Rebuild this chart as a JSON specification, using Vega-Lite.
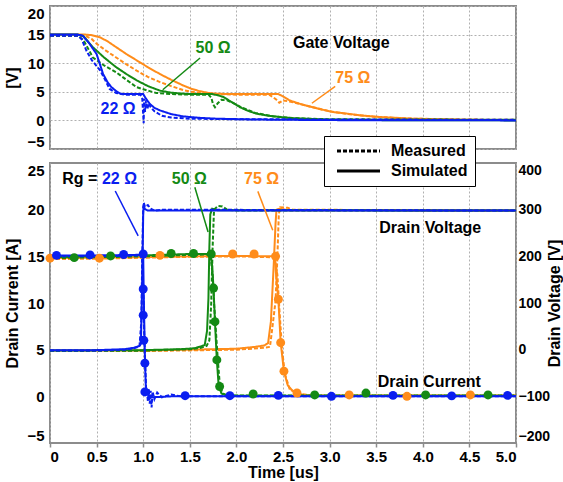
{
  "$schema": "https://vega.github.io/schema/vega-lite/v6.json",
  "padding": {"left": 3, "right": 0, "top": 5, "bottom": 2},
  "bounds": "flush",
  "spacing": 14,
  "datasets": {
    "gate": [
      {"rg":"75","k":"Simulated","t":0,"v":15},{"rg":"75","k":"Simulated","t":0.38,"v":15},{"rg":"75","k":"Simulated","t":0.45,"v":14.9},{"rg":"75","k":"Simulated","t":0.54,"v":14.5},{"rg":"75","k":"Simulated","t":0.62,"v":13.8},{"rg":"75","k":"Simulated","t":0.71,"v":12.8},{"rg":"75","k":"Simulated","t":0.82,"v":11.6},{"rg":"75","k":"Simulated","t":0.93,"v":10.5},{"rg":"75","k":"Simulated","t":1.05,"v":9.3},{"rg":"75","k":"Simulated","t":1.18,"v":8.1},{"rg":"75","k":"Simulated","t":1.3,"v":7.1},{"rg":"75","k":"Simulated","t":1.43,"v":6.1},{"rg":"75","k":"Simulated","t":1.52,"v":5.5},{"rg":"75","k":"Simulated","t":1.61,"v":5.1},{"rg":"75","k":"Simulated","t":1.7,"v":4.8},{"rg":"75","k":"Simulated","t":1.8,"v":4.65},{"rg":"75","k":"Simulated","t":2.0,"v":4.6},{"rg":"75","k":"Simulated","t":2.45,"v":4.6},{"rg":"75","k":"Simulated","t":2.5,"v":4.2},{"rg":"75","k":"Simulated","t":2.57,"v":3.5},{"rg":"75","k":"Simulated","t":2.7,"v":2.8},{"rg":"75","k":"Simulated","t":2.82,"v":2.3},{"rg":"75","k":"Simulated","t":2.93,"v":1.85},{"rg":"75","k":"Simulated","t":3.04,"v":1.45},{"rg":"75","k":"Simulated","t":3.18,"v":1.2},{"rg":"75","k":"Simulated","t":3.35,"v":0.85},{"rg":"75","k":"Simulated","t":3.54,"v":0.6},{"rg":"75","k":"Simulated","t":3.7,"v":0.45},{"rg":"75","k":"Simulated","t":3.89,"v":0.3},{"rg":"75","k":"Simulated","t":4.2,"v":0.2},{"rg":"75","k":"Simulated","t":4.5,"v":0.1},{"rg":"75","k":"Simulated","t":5,"v":0.05},
      {"rg":"75","k":"Measured","t":0,"v":14.8},{"rg":"75","k":"Measured","t":0.38,"v":14.8},{"rg":"75","k":"Measured","t":0.45,"v":14.2},{"rg":"75","k":"Measured","t":0.5,"v":13.4},{"rg":"75","k":"Measured","t":0.6,"v":12.2},{"rg":"75","k":"Measured","t":0.71,"v":11.0},{"rg":"75","k":"Measured","t":0.82,"v":9.8},{"rg":"75","k":"Measured","t":0.93,"v":8.7},{"rg":"75","k":"Measured","t":1.05,"v":7.6},{"rg":"75","k":"Measured","t":1.18,"v":6.7},{"rg":"75","k":"Measured","t":1.3,"v":6.0},{"rg":"75","k":"Measured","t":1.43,"v":5.3},{"rg":"75","k":"Measured","t":1.52,"v":5.0},{"rg":"75","k":"Measured","t":1.61,"v":4.8},{"rg":"75","k":"Measured","t":1.8,"v":4.6},{"rg":"75","k":"Measured","t":2.0,"v":4.5},{"rg":"75","k":"Measured","t":2.35,"v":4.5},{"rg":"75","k":"Measured","t":2.4,"v":4.0},{"rg":"75","k":"Measured","t":2.43,"v":3.6},{"rg":"75","k":"Measured","t":2.46,"v":3.1},{"rg":"75","k":"Measured","t":2.5,"v":3.5},{"rg":"75","k":"Measured","t":2.57,"v":3.3},{"rg":"75","k":"Measured","t":2.7,"v":2.8},{"rg":"75","k":"Measured","t":2.82,"v":2.3},{"rg":"75","k":"Measured","t":3.0,"v":1.6},{"rg":"75","k":"Measured","t":3.2,"v":1.1},{"rg":"75","k":"Measured","t":3.5,"v":0.6},{"rg":"75","k":"Measured","t":3.9,"v":0.3},{"rg":"75","k":"Measured","t":4.5,"v":0.15},{"rg":"75","k":"Measured","t":5,"v":0.1},
      {"rg":"50","k":"Simulated","t":0,"v":15},{"rg":"50","k":"Simulated","t":0.3,"v":15},{"rg":"50","k":"Simulated","t":0.36,"v":14.7},{"rg":"50","k":"Simulated","t":0.46,"v":12.8},{"rg":"50","k":"Simulated","t":0.58,"v":11.0},{"rg":"50","k":"Simulated","t":0.71,"v":9.3},{"rg":"50","k":"Simulated","t":0.82,"v":8.1},{"rg":"50","k":"Simulated","t":0.93,"v":7.0},{"rg":"50","k":"Simulated","t":1.05,"v":6.0},{"rg":"50","k":"Simulated","t":1.18,"v":5.2},{"rg":"50","k":"Simulated","t":1.3,"v":4.85},{"rg":"50","k":"Simulated","t":1.4,"v":4.7},{"rg":"50","k":"Simulated","t":1.5,"v":4.6},{"rg":"50","k":"Simulated","t":1.74,"v":4.6},{"rg":"50","k":"Simulated","t":1.8,"v":4.4},{"rg":"50","k":"Simulated","t":1.86,"v":4.1},{"rg":"50","k":"Simulated","t":1.95,"v":3.2},{"rg":"50","k":"Simulated","t":2.04,"v":2.3},{"rg":"50","k":"Simulated","t":2.12,"v":1.7},{"rg":"50","k":"Simulated","t":2.21,"v":1.2},{"rg":"50","k":"Simulated","t":2.33,"v":0.85},{"rg":"50","k":"Simulated","t":2.46,"v":0.6},{"rg":"50","k":"Simulated","t":2.6,"v":0.4},{"rg":"50","k":"Simulated","t":2.8,"v":0.25},{"rg":"50","k":"Simulated","t":3.0,"v":0.12},{"rg":"50","k":"Simulated","t":3.5,"v":0.05},{"rg":"50","k":"Simulated","t":5,"v":0},
      {"rg":"50","k":"Measured","t":0,"v":14.8},{"rg":"50","k":"Measured","t":0.3,"v":14.8},{"rg":"50","k":"Measured","t":0.36,"v":14.0},{"rg":"50","k":"Measured","t":0.46,"v":11.0},{"rg":"50","k":"Measured","t":0.58,"v":9.6},{"rg":"50","k":"Measured","t":0.71,"v":8.4},{"rg":"50","k":"Measured","t":0.82,"v":7.1},{"rg":"50","k":"Measured","t":0.93,"v":5.8},{"rg":"50","k":"Measured","t":1.05,"v":5.2},{"rg":"50","k":"Measured","t":1.14,"v":4.8},{"rg":"50","k":"Measured","t":1.3,"v":4.6},{"rg":"50","k":"Measured","t":1.5,"v":4.5},{"rg":"50","k":"Measured","t":1.7,"v":4.5},{"rg":"50","k":"Measured","t":1.73,"v":4.0},{"rg":"50","k":"Measured","t":1.75,"v":2.8},{"rg":"50","k":"Measured","t":1.77,"v":2.3},{"rg":"50","k":"Measured","t":1.8,"v":3.0},{"rg":"50","k":"Measured","t":1.84,"v":3.6},{"rg":"50","k":"Measured","t":1.9,"v":3.5},{"rg":"50","k":"Measured","t":1.96,"v":3.1},{"rg":"50","k":"Measured","t":2.04,"v":2.4},{"rg":"50","k":"Measured","t":2.2,"v":1.3},{"rg":"50","k":"Measured","t":2.4,"v":0.7},{"rg":"50","k":"Measured","t":2.6,"v":0.4},{"rg":"50","k":"Measured","t":2.8,"v":0.3},{"rg":"50","k":"Measured","t":3.0,"v":0.2},{"rg":"50","k":"Measured","t":5,"v":0.1},
      {"rg":"22","k":"Simulated","t":0,"v":15},{"rg":"22","k":"Simulated","t":0.3,"v":15},{"rg":"22","k":"Simulated","t":0.35,"v":14.8},{"rg":"22","k":"Simulated","t":0.42,"v":13.5},{"rg":"22","k":"Simulated","t":0.5,"v":11.6},{"rg":"22","k":"Simulated","t":0.57,"v":8.1},{"rg":"22","k":"Simulated","t":0.62,"v":6.6},{"rg":"22","k":"Simulated","t":0.66,"v":5.8},{"rg":"22","k":"Simulated","t":0.72,"v":5.0},{"rg":"22","k":"Simulated","t":0.75,"v":4.7},{"rg":"22","k":"Simulated","t":0.8,"v":4.6},{"rg":"22","k":"Simulated","t":1.0,"v":4.6},{"rg":"22","k":"Simulated","t":1.03,"v":3.8},{"rg":"22","k":"Simulated","t":1.07,"v":2.9},{"rg":"22","k":"Simulated","t":1.12,"v":2.2},{"rg":"22","k":"Simulated","t":1.18,"v":1.75},{"rg":"22","k":"Simulated","t":1.3,"v":1.1},{"rg":"22","k":"Simulated","t":1.43,"v":0.7},{"rg":"22","k":"Simulated","t":1.6,"v":0.45},{"rg":"22","k":"Simulated","t":1.79,"v":0.3},{"rg":"22","k":"Simulated","t":2.2,"v":0.15},{"rg":"22","k":"Simulated","t":3.0,"v":0.05},{"rg":"22","k":"Simulated","t":5,"v":0},
      {"rg":"22","k":"Measured","t":0,"v":14.8},{"rg":"22","k":"Measured","t":0.3,"v":14.8},{"rg":"22","k":"Measured","t":0.34,"v":14.2},{"rg":"22","k":"Measured","t":0.39,"v":12.2},{"rg":"22","k":"Measured","t":0.45,"v":10.5},{"rg":"22","k":"Measured","t":0.54,"v":8.7},{"rg":"22","k":"Measured","t":0.6,"v":6.8},{"rg":"22","k":"Measured","t":0.64,"v":5.5},{"rg":"22","k":"Measured","t":0.71,"v":4.8},{"rg":"22","k":"Measured","t":0.8,"v":4.5},{"rg":"22","k":"Measured","t":0.97,"v":4.5},{"rg":"22","k":"Measured","t":0.99,"v":3.8},{"rg":"22","k":"Measured","t":1.0,"v":1.0},{"rg":"22","k":"Measured","t":1.005,"v":-0.5},{"rg":"22","k":"Measured","t":1.01,"v":3.8},{"rg":"22","k":"Measured","t":1.02,"v":1.5},{"rg":"22","k":"Measured","t":1.03,"v":3.5},{"rg":"22","k":"Measured","t":1.045,"v":2.0},{"rg":"22","k":"Measured","t":1.06,"v":3.0},{"rg":"22","k":"Measured","t":1.08,"v":2.3},{"rg":"22","k":"Measured","t":1.12,"v":1.6},{"rg":"22","k":"Measured","t":1.2,"v":0.8},{"rg":"22","k":"Measured","t":1.3,"v":0.5},{"rg":"22","k":"Measured","t":1.5,"v":0.3},{"rg":"22","k":"Measured","t":2.0,"v":0.2},{"rg":"22","k":"Measured","t":5,"v":0.1}
    ],
    "cur": [
      {"rg":"75","k":"Simulated","t":0,"i":14.8},{"rg":"75","k":"Simulated","t":0.5,"i":14.85},{"rg":"75","k":"Simulated","t":1.0,"i":14.9},{"rg":"75","k":"Simulated","t":1.5,"i":15.0},{"rg":"75","k":"Simulated","t":2.0,"i":15.05},{"rg":"75","k":"Simulated","t":2.41,"i":15.0},{"rg":"75","k":"Simulated","t":2.43,"i":12.5},{"rg":"75","k":"Simulated","t":2.45,"i":10.4},{"rg":"75","k":"Simulated","t":2.475,"i":5.75},{"rg":"75","k":"Simulated","t":2.51,"i":2.7},{"rg":"75","k":"Simulated","t":2.55,"i":1.2},{"rg":"75","k":"Simulated","t":2.6,"i":0.6},{"rg":"75","k":"Simulated","t":2.65,"i":0.3},{"rg":"75","k":"Simulated","t":2.75,"i":0.1},{"rg":"75","k":"Simulated","t":3.0,"i":0.05},{"rg":"75","k":"Simulated","t":5,"i":0.05},
      {"rg":"75","k":"Measured","t":0,"i":14.7},{"rg":"75","k":"Measured","t":0.5,"i":14.75},{"rg":"75","k":"Measured","t":1.0,"i":14.85},{"rg":"75","k":"Measured","t":1.5,"i":14.95},{"rg":"75","k":"Measured","t":2.0,"i":15.0},{"rg":"75","k":"Measured","t":2.41,"i":14.9},{"rg":"75","k":"Measured","t":2.44,"i":13.0},{"rg":"75","k":"Measured","t":2.46,"i":9.5},{"rg":"75","k":"Measured","t":2.49,"i":5.0},{"rg":"75","k":"Measured","t":2.52,"i":2.4},{"rg":"75","k":"Measured","t":2.57,"i":0.8},{"rg":"75","k":"Measured","t":2.65,"i":0.3},{"rg":"75","k":"Measured","t":2.8,"i":0.1},{"rg":"75","k":"Measured","t":5,"i":0.1},
      {"rg":"50","k":"Simulated","t":0,"i":14.9},{"rg":"50","k":"Simulated","t":0.5,"i":15.0},{"rg":"50","k":"Simulated","t":1.0,"i":15.1},{"rg":"50","k":"Simulated","t":1.5,"i":15.25},{"rg":"50","k":"Simulated","t":1.72,"i":15.25},{"rg":"50","k":"Simulated","t":1.74,"i":14.0},{"rg":"50","k":"Simulated","t":1.755,"i":11.5},{"rg":"50","k":"Simulated","t":1.77,"i":8.0},{"rg":"50","k":"Simulated","t":1.79,"i":3.9},{"rg":"50","k":"Simulated","t":1.81,"i":1.1},{"rg":"50","k":"Simulated","t":1.84,"i":0.3},{"rg":"50","k":"Simulated","t":1.9,"i":0.1},{"rg":"50","k":"Simulated","t":2.0,"i":0.05},{"rg":"50","k":"Simulated","t":5,"i":0.05},
      {"rg":"50","k":"Measured","t":0,"i":14.8},{"rg":"50","k":"Measured","t":0.5,"i":14.9},{"rg":"50","k":"Measured","t":1.0,"i":15.0},{"rg":"50","k":"Measured","t":1.5,"i":15.15},{"rg":"50","k":"Measured","t":1.72,"i":15.2},{"rg":"50","k":"Measured","t":1.745,"i":13.0},{"rg":"50","k":"Measured","t":1.76,"i":10.0},{"rg":"50","k":"Measured","t":1.78,"i":7.0},{"rg":"50","k":"Measured","t":1.8,"i":4.0},{"rg":"50","k":"Measured","t":1.82,"i":1.5},{"rg":"50","k":"Measured","t":1.85,"i":0.3},{"rg":"50","k":"Measured","t":1.9,"i":0.1},{"rg":"50","k":"Measured","t":5,"i":0.1},
      {"rg":"22","k":"Simulated","t":0,"i":15.1},{"rg":"22","k":"Simulated","t":0.5,"i":15.1},{"rg":"22","k":"Simulated","t":0.9,"i":15.15},{"rg":"22","k":"Simulated","t":1.0,"i":15.2},{"rg":"22","k":"Simulated","t":1.005,"i":11.5},{"rg":"22","k":"Simulated","t":1.01,"i":8.7},{"rg":"22","k":"Simulated","t":1.015,"i":6.0},{"rg":"22","k":"Simulated","t":1.02,"i":3.5},{"rg":"22","k":"Simulated","t":1.03,"i":0.5},{"rg":"22","k":"Simulated","t":1.06,"i":0.1},{"rg":"22","k":"Simulated","t":1.1,"i":-0.1},{"rg":"22","k":"Simulated","t":1.3,"i":0.0},{"rg":"22","k":"Simulated","t":5,"i":0.0},
      {"rg":"22","k":"Measured","t":0,"i":15.0},{"rg":"22","k":"Measured","t":0.5,"i":15.0},{"rg":"22","k":"Measured","t":0.99,"i":15.1},{"rg":"22","k":"Measured","t":0.995,"i":13.0},{"rg":"22","k":"Measured","t":1.005,"i":10.0},{"rg":"22","k":"Measured","t":1.01,"i":7.0},{"rg":"22","k":"Measured","t":1.02,"i":4.0},{"rg":"22","k":"Measured","t":1.03,"i":1.0},{"rg":"22","k":"Measured","t":1.04,"i":0.6},{"rg":"22","k":"Measured","t":1.05,"i":-0.5},{"rg":"22","k":"Measured","t":1.06,"i":0.8},{"rg":"22","k":"Measured","t":1.07,"i":-0.8},{"rg":"22","k":"Measured","t":1.08,"i":0.6},{"rg":"22","k":"Measured","t":1.09,"i":-1.2},{"rg":"22","k":"Measured","t":1.1,"i":0.5},{"rg":"22","k":"Measured","t":1.12,"i":-0.3},{"rg":"22","k":"Measured","t":1.15,"i":0.4},{"rg":"22","k":"Measured","t":1.2,"i":-0.1},{"rg":"22","k":"Measured","t":1.3,"i":0.2},{"rg":"22","k":"Measured","t":1.4,"i":0.0},{"rg":"22","k":"Measured","t":5,"i":0.0}
    ],
    "volt": [
      {"rg":"75","k":"Simulated","t":0,"vd":-2},{"rg":"75","k":"Simulated","t":1.0,"vd":-2},{"rg":"75","k":"Simulated","t":2.0,"vd":2},{"rg":"75","k":"Simulated","t":2.2,"vd":6},{"rg":"75","k":"Simulated","t":2.3,"vd":9},{"rg":"75","k":"Simulated","t":2.34,"vd":14},{"rg":"75","k":"Simulated","t":2.37,"vd":60},{"rg":"75","k":"Simulated","t":2.4,"vd":180},{"rg":"75","k":"Simulated","t":2.42,"vd":270},{"rg":"75","k":"Simulated","t":2.43,"vd":300},{"rg":"75","k":"Simulated","t":2.46,"vd":302},{"rg":"75","k":"Simulated","t":2.55,"vd":299},{"rg":"75","k":"Simulated","t":5,"vd":298},
      {"rg":"75","k":"Measured","t":0,"vd":-3},{"rg":"75","k":"Measured","t":1.0,"vd":-3},{"rg":"75","k":"Measured","t":2.0,"vd":0},{"rg":"75","k":"Measured","t":2.3,"vd":4},{"rg":"75","k":"Measured","t":2.36,"vd":6},{"rg":"75","k":"Measured","t":2.39,"vd":54},{"rg":"75","k":"Measured","t":2.42,"vd":104},{"rg":"75","k":"Measured","t":2.44,"vd":200},{"rg":"75","k":"Measured","t":2.455,"vd":290},{"rg":"75","k":"Measured","t":2.47,"vd":305},{"rg":"75","k":"Measured","t":2.55,"vd":304},{"rg":"75","k":"Measured","t":2.6,"vd":300},{"rg":"75","k":"Measured","t":5,"vd":298},
      {"rg":"50","k":"Simulated","t":0,"vd":-2},{"rg":"50","k":"Simulated","t":1.0,"vd":-1},{"rg":"50","k":"Simulated","t":1.4,"vd":1},{"rg":"50","k":"Simulated","t":1.55,"vd":3},{"rg":"50","k":"Simulated","t":1.62,"vd":7},{"rg":"50","k":"Simulated","t":1.66,"vd":10},{"rg":"50","k":"Simulated","t":1.685,"vd":40},{"rg":"50","k":"Simulated","t":1.7,"vd":110},{"rg":"50","k":"Simulated","t":1.71,"vd":220},{"rg":"50","k":"Simulated","t":1.72,"vd":290},{"rg":"50","k":"Simulated","t":1.74,"vd":302},{"rg":"50","k":"Simulated","t":1.8,"vd":299},{"rg":"50","k":"Simulated","t":5,"vd":298},
      {"rg":"50","k":"Measured","t":0,"vd":-3},{"rg":"50","k":"Measured","t":1.0,"vd":-2},{"rg":"50","k":"Measured","t":1.5,"vd":1},{"rg":"50","k":"Measured","t":1.62,"vd":4},{"rg":"50","k":"Measured","t":1.68,"vd":8},{"rg":"50","k":"Measured","t":1.71,"vd":20},{"rg":"50","k":"Measured","t":1.73,"vd":100},{"rg":"50","k":"Measured","t":1.745,"vd":220},{"rg":"50","k":"Measured","t":1.76,"vd":300},{"rg":"50","k":"Measured","t":1.8,"vd":308},{"rg":"50","k":"Measured","t":1.85,"vd":307},{"rg":"50","k":"Measured","t":1.9,"vd":300},{"rg":"50","k":"Measured","t":2.0,"vd":298},{"rg":"50","k":"Measured","t":5,"vd":298},
      {"rg":"22","k":"Simulated","t":0,"vd":-1},{"rg":"22","k":"Simulated","t":0.5,"vd":-1},{"rg":"22","k":"Simulated","t":0.8,"vd":1},{"rg":"22","k":"Simulated","t":0.9,"vd":4},{"rg":"22","k":"Simulated","t":0.96,"vd":8},{"rg":"22","k":"Simulated","t":0.975,"vd":12},{"rg":"22","k":"Simulated","t":0.985,"vd":100},{"rg":"22","k":"Simulated","t":0.995,"vd":220},{"rg":"22","k":"Simulated","t":1.0,"vd":290},{"rg":"22","k":"Simulated","t":1.005,"vd":308},{"rg":"22","k":"Simulated","t":1.02,"vd":301},{"rg":"22","k":"Simulated","t":1.05,"vd":298},{"rg":"22","k":"Simulated","t":5,"vd":298},
      {"rg":"22","k":"Measured","t":0,"vd":-2},{"rg":"22","k":"Measured","t":0.5,"vd":-2},{"rg":"22","k":"Measured","t":0.8,"vd":0},{"rg":"22","k":"Measured","t":0.9,"vd":3},{"rg":"22","k":"Measured","t":0.96,"vd":7},{"rg":"22","k":"Measured","t":0.98,"vd":60},{"rg":"22","k":"Measured","t":0.99,"vd":200},{"rg":"22","k":"Measured","t":1.0,"vd":305},{"rg":"22","k":"Measured","t":1.005,"vd":315},{"rg":"22","k":"Measured","t":1.02,"vd":306},{"rg":"22","k":"Measured","t":1.05,"vd":310},{"rg":"22","k":"Measured","t":1.08,"vd":302},{"rg":"22","k":"Measured","t":1.12,"vd":298},{"rg":"22","k":"Measured","t":1.2,"vd":300},{"rg":"22","k":"Measured","t":5,"vd":298}
    ],
    "dots": [
      {"rg":"75","t":0,"i":14.8},{"rg":"75","t":0.53,"i":14.8},{"rg":"75","t":1.18,"i":15.1},{"rg":"75","t":1.96,"i":15.25},{"rg":"75","t":2.19,"i":15.25},{"rg":"75","t":2.42,"i":15.0},{"rg":"75","t":2.45,"i":10.4},{"rg":"75","t":2.475,"i":5.75},{"rg":"75","t":2.51,"i":2.7},{"rg":"75","t":2.65,"i":0.36},{"rg":"75","t":3.21,"i":0.15},{"rg":"75","t":3.83,"i":0.0},{"rg":"75","t":4.51,"i":0.15},
      {"rg":"50","t":0.26,"i":14.86},{"rg":"50","t":0.65,"i":15.04},{"rg":"50","t":1.3,"i":15.3},{"rg":"50","t":1.54,"i":15.3},{"rg":"50","t":1.73,"i":15.25},{"rg":"50","t":1.755,"i":11.6},{"rg":"50","t":1.77,"i":8.0},{"rg":"50","t":1.79,"i":3.9},{"rg":"50","t":1.82,"i":1.05},{"rg":"50","t":2.18,"i":0.25},{"rg":"50","t":2.84,"i":0.15},{"rg":"50","t":3.39,"i":0.35},{"rg":"50","t":4.03,"i":0.15},{"rg":"50","t":4.7,"i":0.15},
      {"rg":"22","t":0.07,"i":15.1},{"rg":"22","t":0.43,"i":15.15},{"rg":"22","t":0.79,"i":15.2},{"rg":"22","t":1.0,"i":15.25},{"rg":"22","t":1.0,"i":11.5},{"rg":"22","t":1.0,"i":8.7},{"rg":"22","t":1.007,"i":6.0},{"rg":"22","t":1.018,"i":3.55},{"rg":"22","t":1.018,"i":0.47},{"rg":"22","t":1.45,"i":0.07},{"rg":"22","t":1.93,"i":0.07},{"rg":"22","t":2.45,"i":0.1},{"rg":"22","t":3.02,"i":0.0},{"rg":"22","t":3.68,"i":0.1},{"rg":"22","t":4.31,"i":0.05},{"rg":"22","t":4.91,"i":0.1}
    ]
  },
  "vconcat": [
    {
      "width": 466,
      "height": 143,
      "layer": [
        {
          "data": {"name": "gate"},
          "mark": {"type": "line", "strokeWidth": 2},
          "encoding": {
            "x": {"field": "t", "type": "quantitative", "scale": {"domain": [0, 5], "nice": false},
                  "axis": {"labels": false, "ticks": false, "title": null, "values": [0,0.5,1,1.5,2,2.5,3,3.5,4,4.5,5]}},
            "y": {"field": "v", "type": "quantitative", "scale": {"domain": [-5, 20], "nice": false},
                  "axis": {"title": "[V]", "values": [-5,0,5,10,15,20], "labelFlush": true, "labelOverlap": false, "labelSeparation": -30, "titlePadding": 6}},
            "color": {"field": "rg", "type": "nominal", "scale": {"domain": ["22","50","75"], "range": ["#0a1ef0","#148a14","#ff8c1a"]}, "legend": null},
            "strokeDash": {"field": "k", "type": "nominal", "scale": {"domain": ["Measured","Simulated"], "range": [[4,2],[1,0]]}, "legend": null}
          }
        },
        {
          "data": {"values": [
            {"t":1.61,"v":10.9,"t2":1.21,"v2":5.36,"rg":"50"},
            {"t":3.06,"v":5.93,"t2":2.81,"v2":3.0,"rg":"75"}
          ]},
          "mark": {"type": "rule", "strokeWidth": 1.5},
          "encoding": {
            "x": {"field": "t", "type": "quantitative", "scale": {"domain": [0, 5], "nice": false}},
            "y": {"field": "v", "type": "quantitative", "scale": {"domain": [-5, 20], "nice": false},
                  "axis": {"title": "[V]", "values": [-5,0,5,10,15,20], "labelFlush": true, "labelOverlap": false, "labelSeparation": -30, "titlePadding": 6}},
            "x2": {"field": "t2"},
            "y2": {"field": "v2"},
            "color": {"field": "rg", "type": "nominal", "legend": null}
          }
        },
        {
          "data": {"values": [
            {"t":1.75,"v":12.6,"label":"50 Ω","rg":"50"},
            {"t":3.25,"v":7.45,"label":"75 Ω","rg":"75"},
            {"t":0.73,"v":2.04,"label":"22 Ω","rg":"22"}
          ]},
          "mark": {"type": "text", "align": "center", "baseline": "middle"},
          "encoding": {
            "x": {"field": "t", "type": "quantitative"},
            "y": {"field": "v", "type": "quantitative",
                  "axis": {"title": "[V]", "values": [-5,0,5,10,15,20], "labelFlush": true, "labelOverlap": false, "labelSeparation": -30, "titlePadding": 6}},
            "text": {"field": "label"},
            "color": {"field": "rg", "type": "nominal", "legend": null}
          }
        },
        {
          "data": {"values": [{"t":3.125,"v":13.56,"label":"Gate Voltage"}]},
          "mark": {"type": "text", "align": "center", "baseline": "middle", "color": "black"},
          "encoding": {
            "x": {"field": "t", "type": "quantitative"},
            "y": {"field": "v", "type": "quantitative",
                  "axis": {"title": "[V]", "values": [-5,0,5,10,15,20], "labelFlush": true, "labelOverlap": false, "labelSeparation": -30, "titlePadding": 6}},
            "text": {"field": "label"}
          }
        }
      ]
    },
    {
      "width": 466,
      "height": 280,
      "layer": [
        {
          "data": {"name": "volt"},
          "mark": {"type": "line", "strokeWidth": 2},
          "encoding": {
            "x": {"field": "t", "type": "quantitative", "scale": {"domain": [0, 5], "nice": false},
                  "axis": {"title": "Time [us]", "values": [0,0.5,1,1.5,2,2.5,3,3.5,4,4.5,5],
                           "labelExpr": "datum.value === 0 ? '0' : format(datum.value, '.1f')",
                           "ticks": true, "tickSize": 4, "tickColor": "#8c8c8c", "tickWidth": 1.5, "labelPadding": 2, "titlePadding": 0}},
            "y": {"field": "vd", "type": "quantitative", "scale": {"domain": [-200, 400], "nice": false},
                  "axis": {"orient": "right", "title": "Drain Voltage [V]", "values": [-200,-100,0,100,200,300,400], "grid": false, "labelFlush": true, "labelOverlap": false, "labelFontSize": 14, "titleAngle": 270, "titleBaseline": "top", "labelPadding": 2, "titlePadding": -3}},
            "color": {"field": "rg", "type": "nominal", "scale": {"domain": ["22","50","75"], "range": ["#0a1ef0","#148a14","#ff8c1a"]}, "legend": null},
            "strokeDash": {"field": "k", "type": "nominal", "scale": {"domain": ["Measured","Simulated"], "range": [[4,2],[1,0]]},
              "legend": {"orient": "none", "legendX": 274, "legendY": -27, "title": null,
                "symbolType": "stroke", "symbolSize": 1850, "symbolStrokeWidth": 3, "symbolStrokeColor": "black", "symbolOffset": 4, "clipHeight": 16,
                "labelFont": "Liberation Sans", "labelFontSize": 16, "labelFontWeight": "bold", "labelColor": "black", "labelOffset": 9,
                "strokeColor": "black", "fillColor": "white", "padding": 7, "rowPadding": 4}}
          }
        },
        {
          "layer": [
            {
              "data": {"name": "cur"},
              "mark": {"type": "line", "strokeWidth": 2},
              "encoding": {
                "x": {"field": "t", "type": "quantitative", "scale": {"domain": [0, 5], "nice": false}},
                "y": {"field": "i", "type": "quantitative", "scale": {"domain": [-5, 25], "nice": false},
                      "axis": {"orient": "left", "title": "Drain Current [A]", "values": [-5,0,5,10,15,20,25], "labelFlush": true, "labelOverlap": false, "titlePadding": 6}},
                "color": {"field": "rg", "type": "nominal", "legend": null},
                "strokeDash": {"field": "k", "type": "nominal", "legend": null}
              }
            },
            {
              "data": {"name": "dots"},
              "mark": {"type": "point", "filled": true, "size": 80, "opacity": 1},
              "encoding": {
                "x": {"field": "t", "type": "quantitative"},
                "y": {"field": "i", "type": "quantitative"},
                "color": {"field": "rg", "type": "nominal", "legend": null}
              }
            },
            {
              "data": {"values": [
                {"t":0.70,"i":22.0,"t2":0.946,"i2":17.2,"rg":"22"},
                {"t":1.554,"i":22.4,"t2":1.696,"i2":17.6,"rg":"50"},
                {"t":2.23,"i":21.96,"t2":2.39,"i2":17.8,"rg":"75"}
              ]},
              "mark": {"type": "rule", "strokeWidth": 1.5},
              "encoding": {
                "x": {"field": "t", "type": "quantitative"},
                "y": {"field": "i", "type": "quantitative"},
                "x2": {"field": "t2"},
                "y2": {"field": "i2"},
                "color": {"field": "rg", "type": "nominal", "legend": null}
              }
            },
            {
              "data": {"values": [
                {"t":0.745,"i":23.3,"label":"22 Ω","rg":"22"},
                {"t":1.495,"i":23.3,"label":"50 Ω","rg":"50"},
                {"t":2.27,"i":23.3,"label":"75 Ω","rg":"75"}
              ]},
              "mark": {"type": "text", "align": "center", "baseline": "middle"},
              "encoding": {
                "x": {"field": "t", "type": "quantitative"},
                "y": {"field": "i", "type": "quantitative"},
                "text": {"field": "label"},
                "color": {"field": "rg", "type": "nominal", "legend": null}
              }
            },
            {
              "data": {"values": [
                {"t":0.32,"i":23.3,"label":"Rg ="},
                {"t":4.08,"i":18.05,"label":"Drain Voltage"},
                {"t":4.07,"i":1.49,"label":"Drain Current"}
              ]},
              "mark": {"type": "text", "align": "center", "baseline": "middle", "color": "black"},
              "encoding": {
                "x": {"field": "t", "type": "quantitative"},
                "y": {"field": "i", "type": "quantitative"},
                "text": {"field": "label"}
              }
            }
          ]
        }
      ],
      "resolve": {"scale": {"y": "independent"}}
    }
  ],
  "resolve": {"scale": {"strokeDash": "independent"}, "legend": {"strokeDash": "independent"}},
  "config": {
    "font": "Liberation Sans",
    "view": {"stroke": "#8c8c8c", "strokeWidth": 2},
    "axis": {
      "labelFont": "Liberation Sans", "labelFontSize": 15, "labelFontWeight": "bold", "labelColor": "black",
      "titleFont": "Liberation Sans", "titleFontSize": 16, "titleFontWeight": "bold", "titleColor": "black",
      "domain": false, "ticks": false, "labelPadding": 6, "labelOverlap": false,
      "grid": true, "gridColor": "#b0b0b0", "gridDash": [2, 2], "gridWidth": 1
    },
    "axisY": {"labelOverlap": false},
    "text": {"font": "Liberation Sans", "fontSize": 16, "fontWeight": "bold"}
  }
}
